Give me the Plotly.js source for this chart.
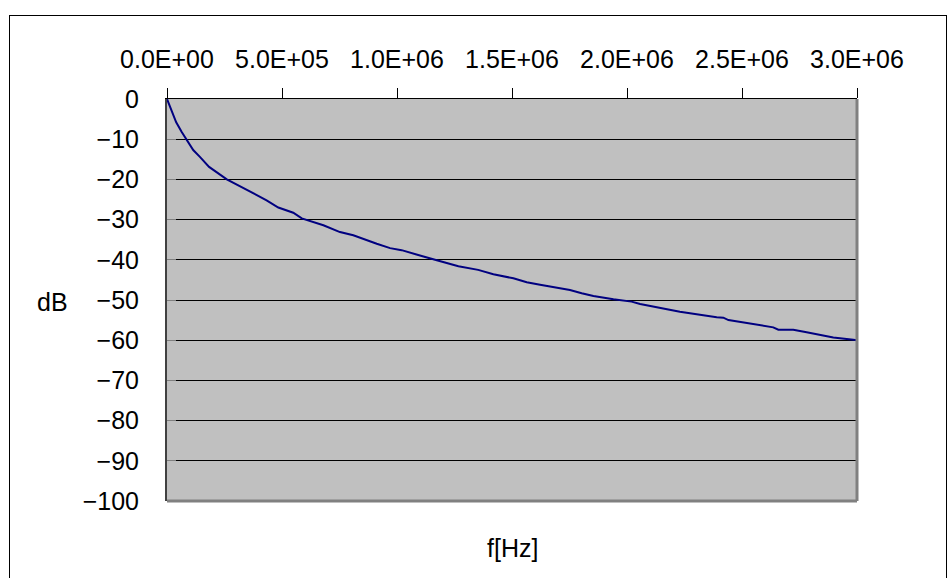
<!DOCTYPE html>
<html>
<head>
<meta charset="utf-8">
<script src="https://cdn.plot.ly/plotly-3.0.1.min.js"></script>
<style>
  html, body { margin: 0; padding: 0; background: #ffffff; overflow: hidden; }
  #frame { position: absolute; left: 9px; top: 15px; width: 938px; height: 1000px;
           border: 1px solid #000000; box-sizing: border-box; }
  #chart { position: absolute; left: 0; top: 0; width: 947px; height: 578px; }
</style>
</head>
<body>
<div id="frame"></div>
<div id="chart"></div>
<script>
// Frequency response: attenuation (dB) against frequency (Hz)
const freqHz = [
  0, 40000, 64000, 86000, 114000, 143000, 183000, 260000, 347000, 433000,
  484000, 549000, 586000, 680000, 752000, 810000, 912000, 970000, 1020000, 1071000,
  1115000, 1173000, 1216000, 1267000, 1353000, 1419000, 1506000, 1564000, 1622000, 1752000,
  1803000, 1854000, 1941000, 2020000, 2057000, 2230000, 2390000, 2419000, 2441000, 2636000,
  2658000, 2723000, 2781000, 2897000, 2984000, 3000000
];
const gainDb = [
  0, -5.8, -8.2, -10.2, -12.7, -14.4, -16.9, -20.0, -22.7, -25.2,
  -27.0, -28.3, -29.7, -31.4, -33.1, -33.9, -36.0, -37.1, -37.6, -38.5,
  -39.2, -40.1, -40.7, -41.6, -42.5, -43.6, -44.6, -45.6, -46.2, -47.5,
  -48.3, -49.0, -49.8, -50.4, -51.0, -52.9, -54.3, -54.4, -55.0, -56.8,
  -57.4, -57.4, -58.0, -59.3, -59.9, -60.0
];

// Axis ticks
const xTickVals = [0, 500000, 1000000, 1500000, 2000000, 2500000, 3000000];
const xTickText = ['0.0E+00', '5.0E+05', '1.0E+06', '1.5E+06', '2.0E+06', '2.5E+06', '3.0E+06'];
const yTickVals = [0, -10, -20, -30, -40, -50, -60, -70, -80, -90, -100];

const xTitle = 'f[Hz]';
const yTitle = 'dB';

const font = { family: 'Liberation Sans, Arial, sans-serif', size: 25, color: '#000000' };

const trace = {
  x: freqHz,
  y: gainDb,
  type: 'scatter',
  mode: 'lines',
  line: { color: '#000080', width: 2 },
  hoverinfo: 'skip'
};

const layout = {
  width: 947,
  height: 578,
  margin: { l: 167, r: 90, t: 99, b: 77, pad: 0 },
  paper_bgcolor: 'rgba(0,0,0,0)',
  plot_bgcolor: '#c0c0c0',
  font: font,
  showlegend: false,
  xaxis: {
    side: 'top',
    range: [0, 3000000],
    tickvals: xTickVals,
    ticktext: xTickText,
    ticks: 'outside',
    ticklen: 10,
    tickwidth: 1,
    tickcolor: '#000000',
    ticklabelstandoff: 10,
    showgrid: false,
    zeroline: false,
    showline: true,
    linecolor: '#000000',
    linewidth: 1,
    tickfont: font,
    fixedrange: true
  },
  yaxis: {
    range: [-100, 0],
    tickvals: yTickVals,
    ticks: 'inside',
    ticklen: 9,
    tickwidth: 1,
    tickcolor: '#808080',
    ticklabelstandoff: 21,
    showgrid: true,
    gridcolor: '#000000',
    gridwidth: 1,
    zeroline: false,
    showline: true,
    linecolor: '#404040',
    linewidth: 2,
    tickfont: font,
    fixedrange: true
  },
  shapes: [
    // right and bottom edges of the plot area
    { type: 'line', xref: 'paper', yref: 'paper', x0: 1, x1: 1, y0: 0, y1: 1,
      line: { color: '#808080', width: 3 } },
    { type: 'line', xref: 'paper', yref: 'paper', x0: 0, x1: 1, y0: 0, y1: 0,
      line: { color: '#808080', width: 3 } }
  ],
  annotations: [
    { text: yTitle, xref: 'paper', yref: 'paper', x: (52 - 167) / 690, y: (501 - 302) / 402,
      xanchor: 'center', yanchor: 'middle', showarrow: false, font: font },
    { text: xTitle, xref: 'paper', yref: 'paper', x: 0.5, y: (501 - 548) / 402,
      xanchor: 'center', yanchor: 'middle', showarrow: false, font: font }
  ]
};

Plotly.newPlot('chart', [trace], layout, { displayModeBar: false, staticPlot: true });
</script>
</body>
</html>
